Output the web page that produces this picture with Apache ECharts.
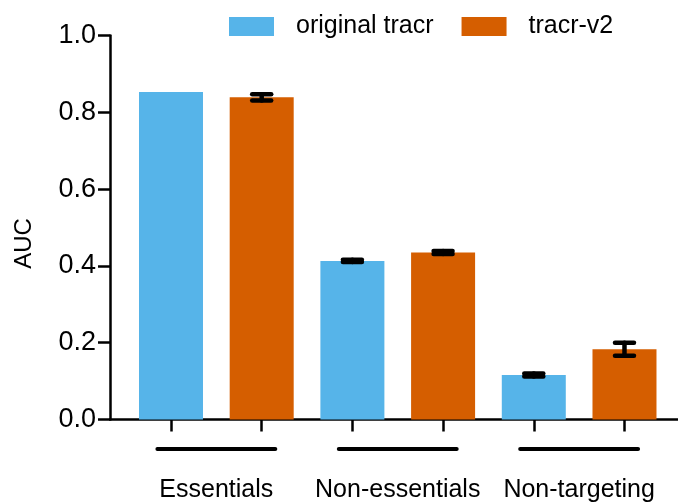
<!DOCTYPE html>
<html>
<head>
<meta charset="utf-8">
<script src="https://cdn.jsdelivr.net/npm/echarts@6/dist/echarts.min.js"></script>
<style>html,body{margin:0;padding:0;background:#fff}#c{width:678px;height:503px}</style>
</head>
<body>
<div id="c"></div>
<script>
const groups = ['Essentials', 'Non-essentials', 'Non-targeting'];
const seriesNames = ['original tracr', 'tracr-v2'];
const originalValues = [0.853, 0.413, 0.116];
const originalErrors = [0, 0.003, 0.004];
const v2Values = [0.839, 0.435, 0.183];
const v2Errors = [0.008, 0.004, 0.017];
const yTickValues = [0, 0.2, 0.4, 0.6, 0.8, 1.0];

const FONT = '"Liberation Sans", Arial, Helvetica, sans-serif';
const BLUE = '#56B4E9';
const ORANGE = '#D55E00';

// bar positions on the x value axis: two bars per group
const origPos = groups.map((g, i) => 2 * i + 1);
const v2Pos = groups.map((g, i) => 2 * i + 2);
const groupCenters = groups.map((g, i) => 2 * i + 1.5);

const origData = origPos.map((x, i) => [x, originalValues[i]]);
const v2Data = v2Pos.map((x, i) => [x, v2Values[i]]);
const errData = origPos.map((x, i) => [x, originalValues[i], originalErrors[i]])
  .concat(v2Pos.map((x, i) => [x, v2Values[i], v2Errors[i]]));

const chart = echarts.init(document.getElementById('c'), null, {renderer: 'canvas'});
chart.setOption({
  animation: false,
  backgroundColor: '#fff',
  legend: {
    left: 224, top: 9,
    itemWidth: 45, itemHeight: 19, itemGap: 28,
    icon: 'rect',
    textStyle: {fontFamily: FONT, fontSize: 25, color: '#000', padding: [0, 0, 0, 17]},
    data: seriesNames
  },
  grid: {left: 110, right: 0, top: 35.5, bottom: 83.5, containLabel: false, outerBoundsMode: 'none'},
  xAxis: {
    type: 'value', min: 0.3275, max: 6.59,
    axisLine: {show: true, lineStyle: {color: '#000', width: 2.5}},
    axisTick: {show: true, customValues: origPos.concat(v2Pos), length: 12, lineStyle: {color: '#000', width: 2.5}},
    axisLabel: {show: false},
    splitLine: {show: false}
  },
  yAxis: {
    type: 'value', min: 0, max: 1, interval: 0.2,
    name: 'AUC', nameLocation: 'middle', nameGap: 74,
    nameTextStyle: {fontFamily: FONT, fontSize: 24, color: '#000', padding: [0, 32, 0, 0]},
    axisLine: {show: true, lineStyle: {color: '#000', width: 2.5}},
    axisTick: {show: true, length: 12, lineStyle: {color: '#000', width: 2.5}},
    axisLabel: {margin: 14, fontFamily: FONT, fontSize: 27, color: '#000',
      formatter: v => yTickValues.some(t => Math.abs(t - v) < 1e-9) ? v.toFixed(1) : ''},
    splitLine: {show: false}
  },
  series: [
    {name: seriesNames[0], type: 'bar', data: origData, barWidth: 64, barGap: '-100%',
      itemStyle: {color: BLUE}, z: 2},
    {name: seriesNames[1], type: 'bar', data: v2Data, barWidth: 64, barGap: '-100%',
      itemStyle: {color: ORANGE}, z: 2},
    {type: 'custom', name: 'err', data: errData, z: 5, silent: true,
      renderItem: function (params, api) {
        const x = api.value(0), v = api.value(1), e = api.value(2);
        if (!(e > 0)) return null;
        const top = api.coord([x, v + e]);
        const bot = api.coord([x, v - e]);
        const hw = 9.5;
        const st = {stroke: '#000', lineWidth: 4.5, lineCap: 'round'};
        return {type: 'group', children: [
          {type: 'line', shape: {x1: top[0], y1: top[1], x2: bot[0], y2: bot[1]}, style: st},
          {type: 'line', shape: {x1: top[0] - hw, y1: top[1], x2: top[0] + hw, y2: top[1]}, style: st},
          {type: 'line', shape: {x1: bot[0] - hw, y1: bot[1], x2: bot[0] + hw, y2: bot[1]}, style: st}
        ]};
      }
    },
    {type: 'custom', name: 'groups', data: groupCenters.map((c, i) => [c, i]), z: 5, silent: true,
      renderItem: function (params, api) {
        const c = api.value(0), i = api.value(1);
        const a = api.coord([c - 0.65, -0.077]);
        const b = api.coord([c + 0.65, -0.077]);
        const t = api.coord([c, -0.183]);
        return {type: 'group', children: [
          {type: 'line', shape: {x1: a[0], y1: a[1], x2: b[0], y2: b[1]},
            style: {stroke: '#000', lineWidth: 4, lineCap: 'round'}},
          {type: 'text', x: t[0], y: t[1], style: {text: groups[i], fill: '#000',
            font: '25px ' + FONT, align: 'center', verticalAlign: 'middle'}}
        ]};
      }
    }
  ]
});
</script>
</body>
</html>
